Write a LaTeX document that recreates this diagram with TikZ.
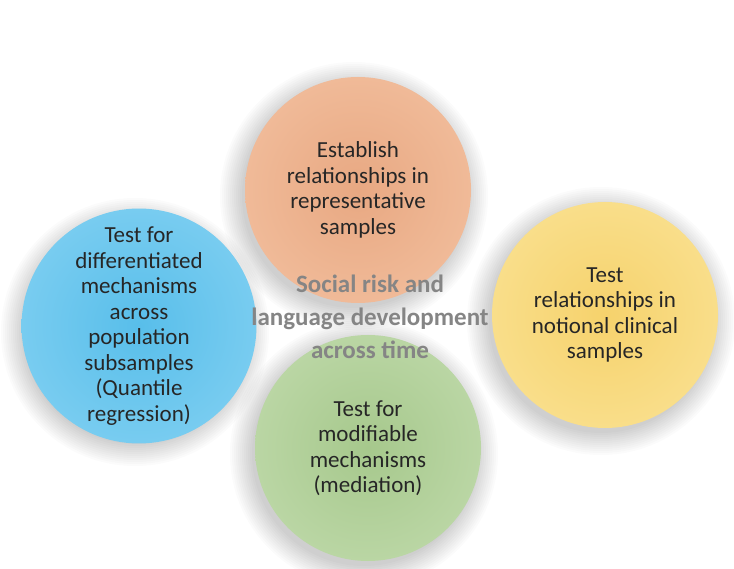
\documentclass[tikz,border=0pt]{standalone}
\usepackage{fontspec}
\setmainfont{Carlito}
\begin{document}
\begin{tikzpicture}[x=1pt,y=-1pt,
  bubble/.style={circle, minimum size=226pt, inner sep=0pt, align=center,
    text=black!85, font=\fontsize{23}{25.5}\selectfont},
  hubtext/.style={align=center, text=black!48,
    font=\bfseries\fontsize{25}{33}\selectfont}]
\useasboundingbox (0,0) rectangle (734,569);
\fill[white] (0,0) rectangle (734,569);

% soft shadows under the discs
\foreach \cx/\cy in {358/190, 139/326, 605/315, 368/448}{
  \foreach \r in {134,132,...,112}{
    \fill[black, opacity=0.016] (\cx-4,\cy+6) circle[radius=\r];
  }
}

% discs, slightly lighter towards the rim
\node[bubble, shade, shading=radial, inner color={rgb,255:red,232;green,168;blue,130},
      outer color={rgb,255:red,240;green,186;blue,152}] (est) at (358,190)
  {Establish\\relationships in\\representative\\samples};
\node[bubble, shade, shading=radial, inner color={rgb,255:red,88;green,190;blue,234},
      outer color={rgb,255:red,120;green,204;blue,240}] (diff) at (139,326)
  {Test for\\differentiated\\mechanisms\\across\\population\\subsamples\\(Quantile\\regression)};
\node[bubble, shade, shading=radial, inner color={rgb,255:red,246;green,210;blue,108},
      outer color={rgb,255:red,249;green,222;blue,138}] (clin) at (605,315)
  {Test\\relationships in\\notional clinical\\samples};
\node[bubble, shade, shading=radial, inner color={rgb,255:red,166;green,200;blue,140},
      outer color={rgb,255:red,186;green,214;blue,164}] (med) at (368,448)
  {Test for\\modifiable\\mechanisms\\(mediation)};

% central theme
\node[hubtext] (hub) at (370,317)
  {Social risk and\\language development\\across time};
\end{tikzpicture}
\end{document}
